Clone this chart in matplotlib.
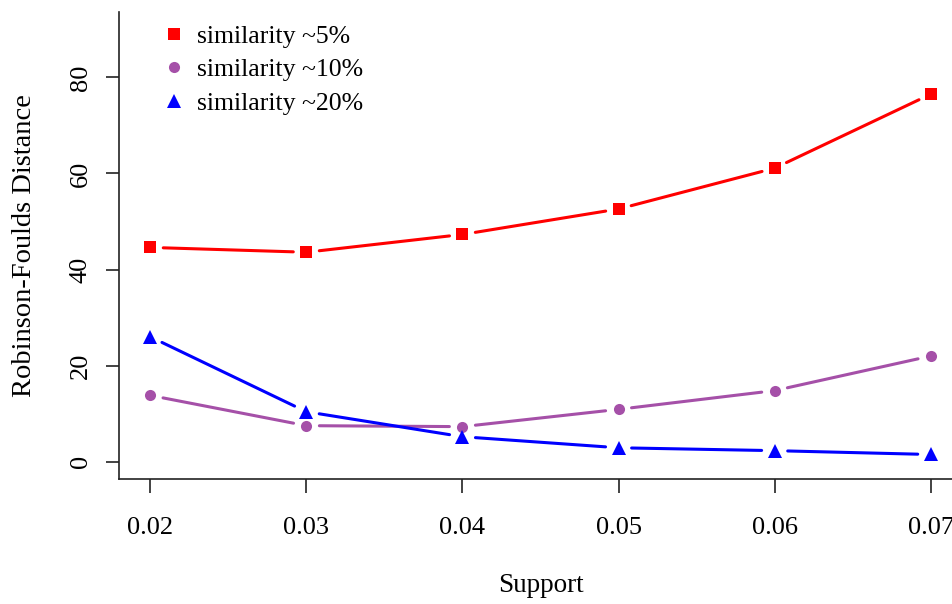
import matplotlib
matplotlib.use('Agg')
import matplotlib.pyplot as plt
from matplotlib.lines import Line2D

plt.rcParams['font.family'] = ['Liberation Serif', 'DejaVu Serif']

# data
support = [0.02, 0.03, 0.04, 0.05, 0.06, 0.07]
rf_5 = [44.6, 43.6, 47.3, 52.6, 61.1, 76.5]
rf_10 = [13.8, 7.5, 7.3, 10.9, 14.8, 22.0]
rf_20 = [26.0, 10.4, 5.2, 2.9, 2.3, 1.5]

labels = ['similarity ~5%', 'similarity ~10%', 'similarity ~20%']
colors = ['#FF0000', '#A550A8', '#0000FF']
markers = ['s', 'o', '^']
msizes = [9.0, 8.0, 9.8]
series = [rf_5, rf_10, rf_20]

fig = plt.figure(figsize=(9.52, 6.04), dpi=100)
ax = fig.add_axes([119 / 952, 125 / 604, 843 / 952, 467 / 604])
ax.set_xlim(0.018, 0.072)
ax.set_ylim(-3.6, 93.6)

# R style type="b": segments with gaps around the points
for ys, c, m, ms in zip(series, colors, markers, msizes):
    for i in range(len(support) - 1):
        ax.annotate('', xy=(support[i + 1], ys[i + 1]), xytext=(support[i], ys[i]),
                    arrowprops=dict(arrowstyle='-', color=c, lw=2.2,
                                    shrinkA=9.4, shrinkB=9.4))
    ax.plot(support, ys, linestyle='none', marker=m, color=c,
            markersize=ms, markeredgewidth=0)

ax.spines['top'].set_visible(False)
ax.spines['right'].set_visible(False)
for s in ['left', 'bottom']:
    ax.spines[s].set_linewidth(1.2)
    ax.spines[s].set_color('#222222')

ax.set_xticks(support)
ax.set_xticklabels(['0.02', '0.03', '0.04', '0.05', '0.06', '0.07'])
ax.set_yticks([0, 20, 40, 60, 80])
ax.tick_params(axis='both', labelsize=19, width=1.2, color='#222222')
ax.tick_params(axis='x', length=10, pad=17)
ax.tick_params(axis='y', length=9.4, pad=10.4)
for t in ax.get_yticklabels():
    t.set_rotation(90)
    t.set_va('center')

ax.set_xlabel('Support', fontsize=19.5, va='center')
ax.xaxis.set_label_coords(0.5, (479 - 586) / 467)
ax.set_ylabel('Robinson-Foulds Distance', fontsize=20.5, va='center')
ax.yaxis.set_label_coords((25 - 119) / 843, 0.5)

handles = [Line2D([], [], linestyle='none', marker=m, color=c, markersize=ms,
                  markeredgewidth=0) for m, c, ms in zip(markers, colors, msizes)]
ax.legend(handles, labels, loc='upper left', bbox_to_anchor=(161.6 / 952, 1 - 25 / 604),
          bbox_transform=fig.transFigure, frameon=False, fontsize=18.5,
          handlelength=1.0, handletextpad=0.36, labelspacing=0.40,
          borderpad=0, borderaxespad=0)

fig.savefig('out.png', dpi=100)
